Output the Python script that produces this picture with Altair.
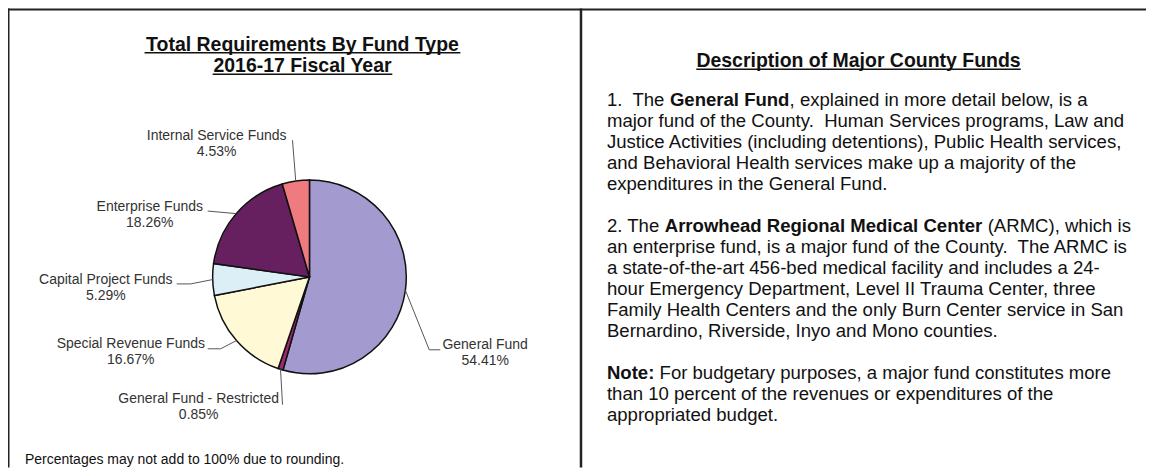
import math
import altair as alt
import pandas as pd

# ---------------- data ----------------
funds = ["General Fund", "General Fund - Restricted", "Special Revenue Funds",
         "Capital Project Funds", "Enterprise Funds", "Internal Service Funds"]
shares = [54.41, 0.85, 16.67, 5.29, 18.26, 4.53]
colors = ["#A39BCF", "#9C2A6C", "#FFF9D6", "#DCEFF7", "#662060", "#F07B7E"]

title_lines = ["Total Requirements By Fund Type", "2016-17 Fiscal Year"]
panel_title = "Description of Major County Funds"
footnote = "Percentages may not add to 100% due to rounding."
NB2 = "\u00a0 "
body = [
    [("1." + NB2 + "The ", False), ("General Fund", True), (", explained in more detail below, is a", False)],
    [("major fund of the County." + NB2 + "Human Services programs, Law and", False)],
    [("Justice Activities (including detentions), Public Health services,", False)],
    [("and Behavioral Health services make up a majority of the", False)],
    [("expenditures in the General Fund.", False)],
    [],
    [("2. The ", False), ("Arrowhead Regional Medical Center", True), (" (ARMC), which is", False)],
    [("an enterprise fund, is a major fund of the County." + NB2 + "The ARMC is", False)],
    [("a state-of-the-art 456-bed medical facility and includes a 24-", False)],
    [("hour Emergency Department, Level II Trauma Center, three", False)],
    [("Family Health Centers and the only Burn Center service in San", False)],
    [("Bernardino, Riverside, Inyo and Mono counties.", False)],
    [],
    [("Note:", True), (" For budgetary purposes, a major fund constitutes more", False)],
    [("than 10 percent of the revenues or expenditures of the", False)],
    [("appropriated budget.", False)],
]

# ---------------- layout (page pixels) ----------------
OFF = 8
W, H = 1140, 460
PIE_CX, PIE_CY, PIE_R = 310, 277, 97
label_xy = [(486, 345), (199, 399), (131, 344), (106, 280), (150, 207), (217, 136)]
leader_via = [[(430, 350), (441, 350)], [(283, 405)], [(221, 349), (208, 349)],
              [(191, 284), (177, 284)], [(208, 211)], [(293, 140)]]
FONT = "Liberation Sans"
LABEL_FS, TITLE_FS, BODY_FS, NOTE_FS = 14, 19.5, 18.6, 14
BODY_X, BODY_Y0, BODY_DY = 608, 100, 21.0
TITLE_CX, TITLE_Y = 303, [50.5, 72]
PANEL_CX, PANEL_Y = 860, 67

REG = {" ": 278, "\u00a0": 278, "(": 333, ")": 333, ",": 278, "-": 333, ".": 278, "%": 889, ":": 278,
       "A": 667, "B": 667, "C": 722, "D": 722, "E": 667, "F": 611, "G": 778, "H": 722, "I": 278,
       "J": 500, "K": 667, "L": 556, "M": 833, "N": 722, "O": 778, "P": 667, "Q": 778, "R": 722,
       "S": 667, "T": 611, "U": 722, "V": 667, "W": 944, "X": 667, "Y": 667, "Z": 611,
       "a": 556, "b": 556, "c": 500, "d": 556, "e": 556, "f": 278, "g": 556, "h": 556, "i": 222,
       "j": 222, "k": 500, "l": 222, "m": 833, "n": 556, "o": 556, "p": 556, "q": 556, "r": 333,
       "s": 500, "t": 278, "u": 556, "v": 500, "w": 722, "x": 500, "y": 500, "z": 500}
BOLD = {" ": 278, "\u00a0": 278, "(": 333, ")": 333, ",": 278, "-": 333, ".": 278, "%": 889, ":": 333,
        "A": 722, "B": 722, "C": 722, "D": 722, "E": 667, "F": 611, "G": 778, "H": 722, "I": 278,
        "J": 556, "K": 722, "L": 611, "M": 833, "N": 722, "O": 778, "P": 667, "Q": 778, "R": 722,
        "S": 667, "T": 611, "U": 722, "V": 667, "W": 944, "X": 667, "Y": 667, "Z": 611,
        "a": 556, "b": 611, "c": 556, "d": 611, "e": 556, "f": 333, "g": 611, "h": 611, "i": 278,
        "j": 278, "k": 556, "l": 278, "m": 889, "n": 611, "o": 611, "p": 611, "q": 611, "r": 389,
        "s": 556, "t": 333, "u": 611, "v": 556, "w": 778, "x": 556, "y": 556, "z": 500}


def tw(s, size, bold=False):
    tab = BOLD if bold else REG
    return sum(tab.get(ch, 556) for ch in s) * size / 1000.0


def P(x, y):
    return x - OFF, y - OFF


# ---------------- pie ----------------
pie_df = pd.DataFrame({"fund": funds, "share": shares, "idx": list(range(len(funds)))})
pie = alt.Chart(pie_df).mark_arc(radius=PIE_R, stroke="#111111", strokeWidth=1.5).encode(
    theta=alt.Theta("share:Q", stack=True),
    color=alt.Color("fund:N", scale=alt.Scale(domain=funds, range=colors), legend=None),
    order=alt.Order("idx:Q"),
    x=alt.value(PIE_CX - OFF),
    y=alt.value(PIE_CY - OFF),
)

# leader lines: start on the pie edge at each slice's mid-angle
total = sum(shares)
seg_rows = []
cum = 0.0
for share, via in zip(shares, leader_via):
    ang = 2 * math.pi * (cum + share / 2) / total
    cum += share
    pts = [(PIE_CX + PIE_R * math.sin(ang), PIE_CY - PIE_R * math.cos(ang))] + via
    for (xa, ya), (xb, yb) in zip(pts[:-1], pts[1:]):
        a, b = P(xa, ya), P(xb, yb)
        seg_rows.append({"x": a[0], "y": a[1], "x2": b[0], "y2": b[1]})
leaders = alt.Chart(pd.DataFrame(seg_rows)).mark_rule(color="#555555", strokeWidth=1).encode(
    x=alt.X("x:Q", scale=None, axis=None), y=alt.Y("y:Q", scale=None, axis=None),
    x2="x2:Q", y2="y2:Q")

# pie labels
lab_rows = []
for f, s, (lx, ly) in zip(funds, shares, label_xy):
    px, py = P(lx, ly)
    lab_rows.append({"x": px, "y": py, "t": f})
    lab_rows.append({"x": px, "y": py + 16, "t": f"{s:.2f}%"})


def text_layer(rows, **kw):
    return alt.Chart(pd.DataFrame(rows)).mark_text(font=FONT, **kw).encode(
        x=alt.X("x:Q", scale=None, axis=None), y=alt.Y("y:Q", scale=None, axis=None),
        text="t:N")


labels = text_layer(lab_rows, fontSize=LABEL_FS, align="center", baseline="middle", color="#333333")

# titles
title_rows = []
ul_rows = []
for line, yb in zip(title_lines, TITLE_Y):
    px, py = P(TITLE_CX, yb)
    title_rows.append({"x": px, "y": py, "t": line})
    w = tw(line, TITLE_FS, True)
    ul_rows.append({"x": px - w / 2, "y": py + 2, "x2": px + w / 2, "y2": py + 2})
px, py = P(PANEL_CX, PANEL_Y)
title_rows.append({"x": px, "y": py, "t": panel_title})
w = tw(panel_title, TITLE_FS, True)
ul_rows.append({"x": px - w / 2, "y": py + 2, "x2": px + w / 2, "y2": py + 2})

titles = text_layer(title_rows, fontSize=TITLE_FS, fontWeight="bold", align="center",
                    baseline="alphabetic", color="#111111")
underlines = alt.Chart(pd.DataFrame(ul_rows)).mark_rule(color="#111111", strokeWidth=1.5).encode(
    x=alt.X("x:Q", scale=None, axis=None), y=alt.Y("y:Q", scale=None, axis=None),
    x2="x2:Q", y2="y2:Q")

# body text
reg_rows, bold_rows = [], []
for i, segs in enumerate(body):
    y = BODY_Y0 + i * BODY_DY
    x = BODY_X
    for s, b in segs:
        lead = len(s) - len(s.lstrip(" "))
        sx = x + tw(s[:lead], BODY_FS, b)
        px, py = P(sx, y)
        (bold_rows if b else reg_rows).append({"x": px, "y": py, "t": s.strip(" ")})
        x += tw(s, BODY_FS, b)
body_reg = text_layer(reg_rows, fontSize=BODY_FS, align="left", baseline="middle", color="#111111")
body_bold = text_layer(bold_rows, fontSize=BODY_FS, fontWeight="bold", align="left",
                       baseline="middle", color="#111111")

px, py = P(25, 460)
note = text_layer([{"x": px, "y": py, "t": footnote}], fontSize=NOTE_FS, align="left",
                  baseline="middle", color="#111111")

# frame lines
frame_rows = [
    {"x": 0, "y": 1, "x2": W, "y2": 1, "w": 2},
    {"x": 0.75, "y": 0, "x2": 0.75, "y2": H, "w": 1.5},
    {"x": 582 - OFF, "y": 0, "x2": 582 - OFF, "y2": H, "w": 2.5},
]
frame = alt.Chart(pd.DataFrame(frame_rows)).mark_rule(color="#222222").encode(
    x=alt.X("x:Q", scale=None, axis=None), y=alt.Y("y:Q", scale=None, axis=None),
    x2="x2:Q", y2="y2:Q", strokeWidth=alt.StrokeWidth("w:Q", scale=None, legend=None))

chart = alt.layer(frame, pie, leaders, labels, titles, underlines, body_reg, body_bold, note).properties(
    width=W, height=H, padding=0, autosize="none", background="white"
).configure_view(stroke=None)

chart.save("out.html", embed_options={"renderer": "svg", "actions": False})
